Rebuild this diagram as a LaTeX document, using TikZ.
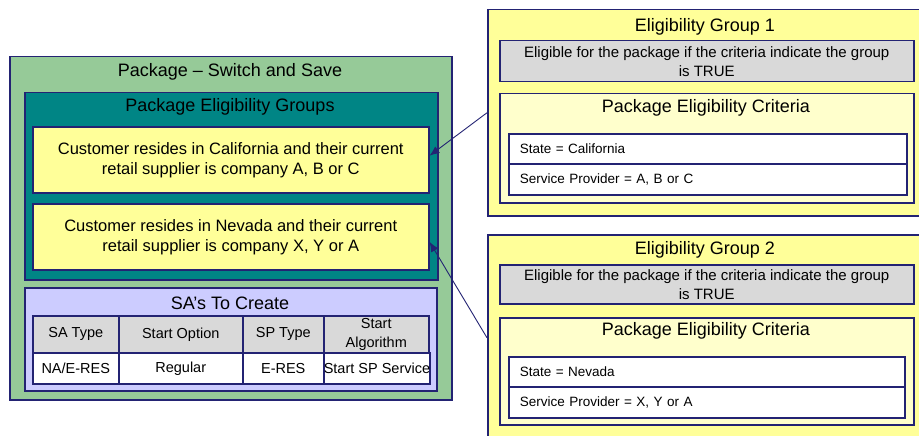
\documentclass[tikz,border=0pt]{standalone}
\usepackage{xcolor}
\usepackage{fontspec}
\setmainfont{Liberation Sans}
\usepackage{tikz}
\usetikzlibrary{arrows.meta}

\definecolor{navyline}{RGB}{35,35,115}
\definecolor{pkggreen}{RGB}{150,202,152}
\definecolor{grpteal}{RGB}{0,133,133}
\definecolor{custyellow}{RGB}{255,255,153}
\definecolor{crityellow}{RGB}{255,255,204}
\definecolor{salavender}{RGB}{204,204,255}
\definecolor{hdgrey}{RGB}{217,217,217}

\tikzset{
  box/.style={draw=navyline, line width=1.5pt, anchor=north west, inner sep=0pt, align=center},
  ttl/.style={font=\fontsize{18}{21}\selectfont},
  celltext/.style={font=\fontsize{14.5}{19}\selectfont},
  critrow/.style={box, fill=white, inner xsep=11pt, align=left, minimum height=30pt,
    font=\fontsize{13.5}{16}\selectfont},
}

\begin{document}
\begin{tikzpicture}[x=1pt,y=-1pt]
\useasboundingbox (0,0) rectangle (919,436);
\clip (0,0) rectangle (919,436);

% package on the left
\node[box, fill=pkggreen, minimum width=442pt, minimum height=343pt] (pkg) at (9,56) {};
\node[ttl] (pkgtitle) at (230,72) {Package -- Switch and Save};
\node[box, fill=grpteal, minimum width=413pt, minimum height=187pt] (grps) at (24,92) {};
\node[ttl] (grpstitle) at (230,107) {Package Eligibility Groups};
\node[box, fill=custyellow, minimum width=396pt, minimum height=66pt,
  font=\fontsize{16.5}{20}\selectfont] (cust1) at (32,126)
  {Customer resides in California and their current\\retail supplier is company A, B or C};
\node[box, fill=custyellow, minimum width=396pt, minimum height=66pt,
  font=\fontsize{16.5}{20}\selectfont] (cust2) at (32,203)
  {Customer resides in Nevada and their current\\retail supplier is company X, Y or A};

% SA's to create
\node[box, fill=salavender, minimum width=412pt, minimum height=103pt] (sas) at (24,287) {};
\node[ttl] (sastitle) at (230,303) {SA's To Create};
\foreach \x/\w/\t [count=\i] in {32/86/SA Type, 118/124/Start Option, 242/81/SP Type, 323/105/{Start\\Algorithm}}
  \node[box, fill=hdgrey, celltext, minimum width=\w pt, minimum height=37pt] (hd\i) at (\x,315) {\t};
\foreach \x/\w/\t [count=\i] in {32/86/{NA/E-RES}, 118/124/Regular, 242/81/E-RES, 323/105/{Start SP Service}}
  \node[box, fill=white, celltext, minimum width=\w pt, minimum height=31pt] (rw\i) at (\x,352) {\t};

% eligibility group 1
\node[box, fill=custyellow, minimum width=436pt, minimum height=206pt] (grp1) at (487,9) {};
\node[ttl] (grp1title) at (705,27) {Eligibility Group 1};
\node[box, fill=hdgrey, minimum width=414pt, minimum height=41pt,
  font=\fontsize{15}{19}\selectfont] (elig1) at (499,40)
  {Eligible for the package if the criteria indicate the group\\is TRUE};
\node[box, fill=crityellow, minimum width=414pt, minimum height=109pt] (crit1) at (499,93) {};
\node[ttl] (crit1title) at (706,108) {Package Eligibility Criteria};
\node[critrow, text width=376pt] (st1) at (508,133) {State = California};
\node[critrow, text width=376pt, minimum height=31pt] (sp1) at (508,163) {Service Provider = A, B or C};

% eligibility group 2
\node[box, fill=custyellow, minimum width=436pt, minimum height=206pt] (grp2) at (487,234) {};
\node[ttl] (grp2title) at (705,250) {Eligibility Group 2};
\node[box, fill=hdgrey, minimum width=414pt, minimum height=39pt,
  font=\fontsize{15}{19}\selectfont] (elig2) at (499,264)
  {Eligible for the package if the criteria indicate the group\\is TRUE};
\node[box, fill=crityellow, minimum width=414pt, minimum height=107pt] (crit2) at (499,317) {};
\node[ttl] (crit2title) at (706,331) {Package Eligibility Criteria};
\node[critrow, text width=374pt] (st2) at (508,356) {State = Nevada};
\node[critrow, text width=374pt, minimum height=31pt] (sp2) at (508,386) {Service Provider = X, Y or A};

% links
\draw[navyline, line width=0.9pt, -{Latex[length=10pt,width=8pt]}] (grp1.west) -- ([yshift=4pt]cust1.east);
\draw[navyline, line width=0.9pt, -{Latex[length=10pt,width=8pt]}] (grp2.west) -- ([yshift=-5pt]cust2.east);
\end{tikzpicture}
\end{document}
